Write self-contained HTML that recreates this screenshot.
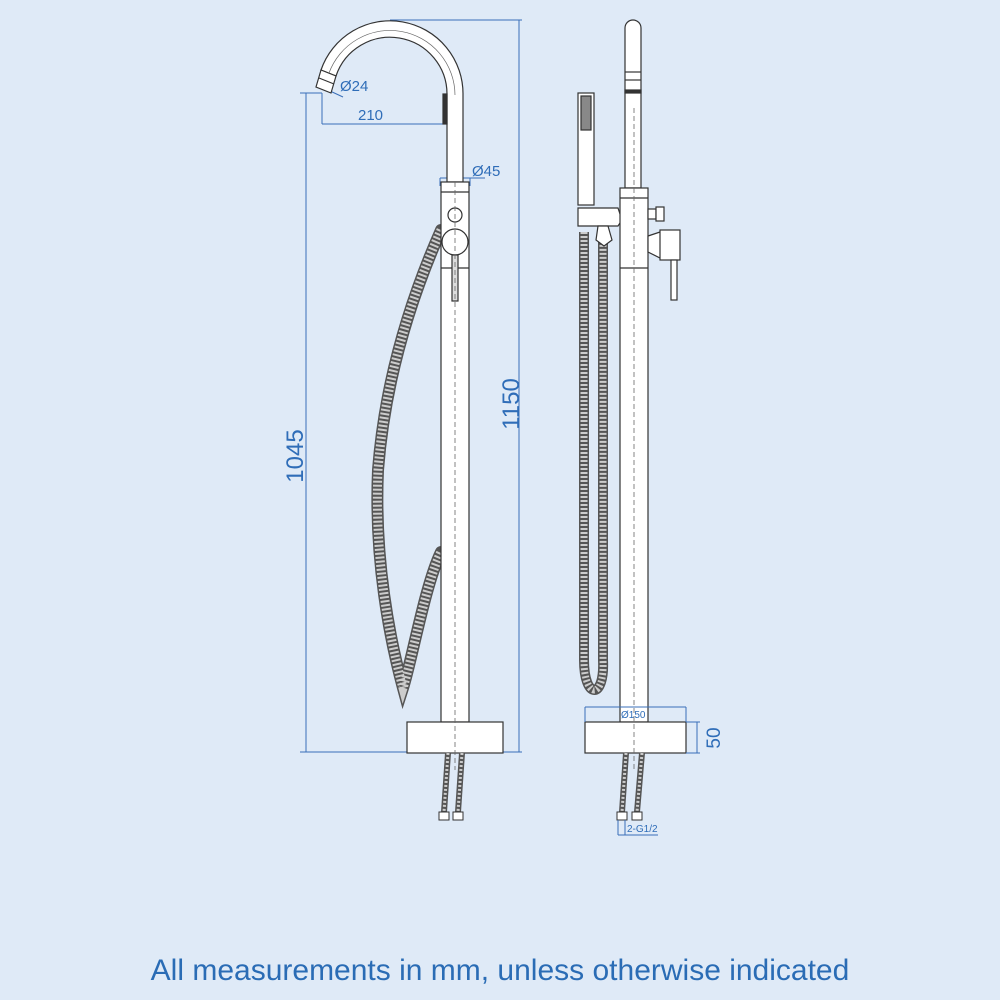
<!DOCTYPE html>
<html><head><meta charset="utf-8"><style>
html,body{margin:0;padding:0;background:#dfeaf7;}
svg{display:block}
</style></head><body>
<svg width="1000" height="1000" viewBox="0 0 1000 1000" xmlns="http://www.w3.org/2000/svg">
<rect width="1000" height="1000" fill="#dfeaf7"/>

<!-- ===== LEFT TAP ===== -->
<g stroke="#3a6fb8" stroke-width="1" fill="none">
  <line x1="306" y1="93" x2="306" y2="752"/>
  <line x1="300" y1="93" x2="322" y2="93"/>
  <line x1="300" y1="752" x2="407" y2="752"/>
  <line x1="519" y1="20" x2="519" y2="752"/>
  <line x1="390" y1="20" x2="522" y2="20"/>
  <line x1="503" y1="752" x2="522" y2="752"/>
  <line x1="322" y1="93" x2="322" y2="124"/>
  <line x1="322" y1="124" x2="455" y2="124"/>
  <line x1="440" y1="178" x2="485" y2="178"/>
  <line x1="440" y1="178" x2="440" y2="186"/>
  <line x1="470" y1="178" x2="470" y2="186"/>
  <line x1="330" y1="91" x2="343" y2="97"/>
</g>
<g fill="#2f6db8" font-family="Liberation Sans, sans-serif">
  <text x="340" y="91" font-size="15">Ø24</text>
  <text x="358" y="120" font-size="15">210</text>
  <text x="472" y="176" font-size="15">Ø45</text>
  <text transform="translate(303,456) rotate(-90)" font-size="24" text-anchor="middle">1045</text>
  <text transform="translate(519,404) rotate(-90)" font-size="24" text-anchor="middle">1150</text>
</g>

<!-- hose left -->
<path d="M441 230 C410 300 385 380 378 470 C374 560 390 640 403 688 C412 660 425 585 441 552" fill="none" stroke="#555" stroke-width="12" stroke-linecap="round"/>
<path d="M441 230 C410 300 385 380 378 470 C374 560 390 640 403 688 C412 660 425 585 441 552" fill="none" stroke="#ccc" stroke-width="9" stroke-dasharray="2 2"/>

<!-- spout -->
<g fill="#fff" stroke="#333" stroke-width="1.2">
  <path d="M447 182 L447 95 A57 57 0 0 0 336 76 L321 70 A73 73 0 0 1 463 95 L463 182 Z"/>
  <path d="M321 70 L336 76 L331 93 L316 87 Z"/>
  <line x1="319" y1="78" x2="334" y2="84"/>
  <rect x="443" y="94" width="4" height="30" fill="#333"/>
</g>
<path d="M455 95 A65 65 0 0 0 329 73" fill="none" stroke="#666" stroke-width="0.7"/>
<!-- body -->
<g fill="#fff" stroke="#333" stroke-width="1.2">
  <rect x="441" y="182" width="28" height="540"/>
  <line x1="441" y1="192" x2="469" y2="192"/>
  <line x1="441" y1="268" x2="469" y2="268"/>
  <circle cx="455" cy="215" r="7"/>
  <circle cx="455" cy="242" r="13"/>
  <rect x="452" y="255" width="6" height="46" fill="#ddd"/>
  <rect x="407" y="722" width="96" height="31"/>
</g>
<line x1="455" y1="182" x2="455" y2="770" stroke="#666" stroke-width="0.8" stroke-dasharray="5 3"/>
<g stroke="#555" stroke-width="6" fill="none"><path d="M448 753 L444 812"/><path d="M462 753 L458 812"/></g>
<g stroke="#ccc" stroke-width="3" stroke-dasharray="2 2" fill="none"><path d="M448 753 L444 812"/><path d="M462 753 L458 812"/></g>
<g fill="#fff" stroke="#333"><rect x="439" y="812" width="10" height="8"/><rect x="453" y="812" width="10" height="8"/></g>

<!-- ===== RIGHT TAP ===== -->
<path d="M584 232 L584 660 C584 700 605 700 603 660 L603 236" fill="none" stroke="#555" stroke-width="10"/>
<path d="M584 232 L584 660 C584 700 605 700 603 660 L603 236" fill="none" stroke="#ccc" stroke-width="7" stroke-dasharray="2 2"/>

<g fill="#fff" stroke="#333" stroke-width="1.2">
  <path d="M625 188 L625 28 A8 8 0 0 1 641 28 L641 188 Z"/>
  <line x1="625" y1="72" x2="641" y2="72"/>
  <line x1="625" y1="80" x2="641" y2="80"/>
  <rect x="625" y="90" width="16" height="3" fill="#333"/>
  <rect x="578" y="93" width="16" height="112"/>
  <rect x="581" y="96" width="10" height="34" fill="#888"/>
  <path d="M578 208 L618 208 L622 220 L618 226 L578 226 Z"/>
  <path d="M598 226 L608 226 L612 240 L604 246 L596 240 Z"/>
  <rect x="620" y="188" width="28" height="534"/>
  <line x1="620" y1="198" x2="648" y2="198"/>
  <line x1="620" y1="268" x2="648" y2="268"/>
  <rect x="648" y="209" width="8" height="10"/>
  <rect x="656" y="207" width="8" height="14"/>
  <path d="M648 236 L660 232 L670 232 L670 258 L660 258 L648 252 Z"/>
  <rect x="660" y="230" width="20" height="30"/>
  <rect x="671" y="260" width="6" height="40"/>
  <rect x="585" y="722" width="101" height="31"/>
</g>
<line x1="634" y1="108" x2="634" y2="770" stroke="#666" stroke-width="0.8" stroke-dasharray="5 3"/>
<g stroke="#555" stroke-width="6" fill="none"><path d="M626 753 L622 812"/><path d="M642 753 L637 812"/></g>
<g stroke="#ccc" stroke-width="3" stroke-dasharray="2 2" fill="none"><path d="M626 753 L622 812"/><path d="M642 753 L637 812"/></g>
<g fill="#fff" stroke="#333"><rect x="617" y="812" width="10" height="8"/><rect x="632" y="812" width="10" height="8"/></g>

<g stroke="#3a6fb8" stroke-width="1" fill="none">
  <line x1="585" y1="707" x2="686" y2="707"/>
  <line x1="585" y1="707" x2="585" y2="722"/>
  <line x1="686" y1="707" x2="686" y2="722"/>
  <line x1="686" y1="722" x2="700" y2="722"/>
  <line x1="686" y1="753" x2="700" y2="753"/>
  <line x1="697" y1="722" x2="697" y2="753"/>
  <line x1="618" y1="820" x2="618" y2="835"/>
  <line x1="625" y1="820" x2="625" y2="835"/>
  <line x1="618" y1="835" x2="658" y2="835"/>
</g>
<g fill="#2f6db8" font-family="Liberation Sans, sans-serif">
  <text x="621" y="718" font-size="10">Ø150</text>
  <text transform="translate(720,738) rotate(-90)" font-size="19" text-anchor="middle">50</text>
  <text x="627" y="832" font-size="10">2-G1/2</text>
</g>

<text x="500" y="980" text-anchor="middle" font-family="Liberation Sans, sans-serif" font-size="30" fill="#2a6cb5">All measurements in mm, unless otherwise indicated</text>
</svg>
</body></html>
